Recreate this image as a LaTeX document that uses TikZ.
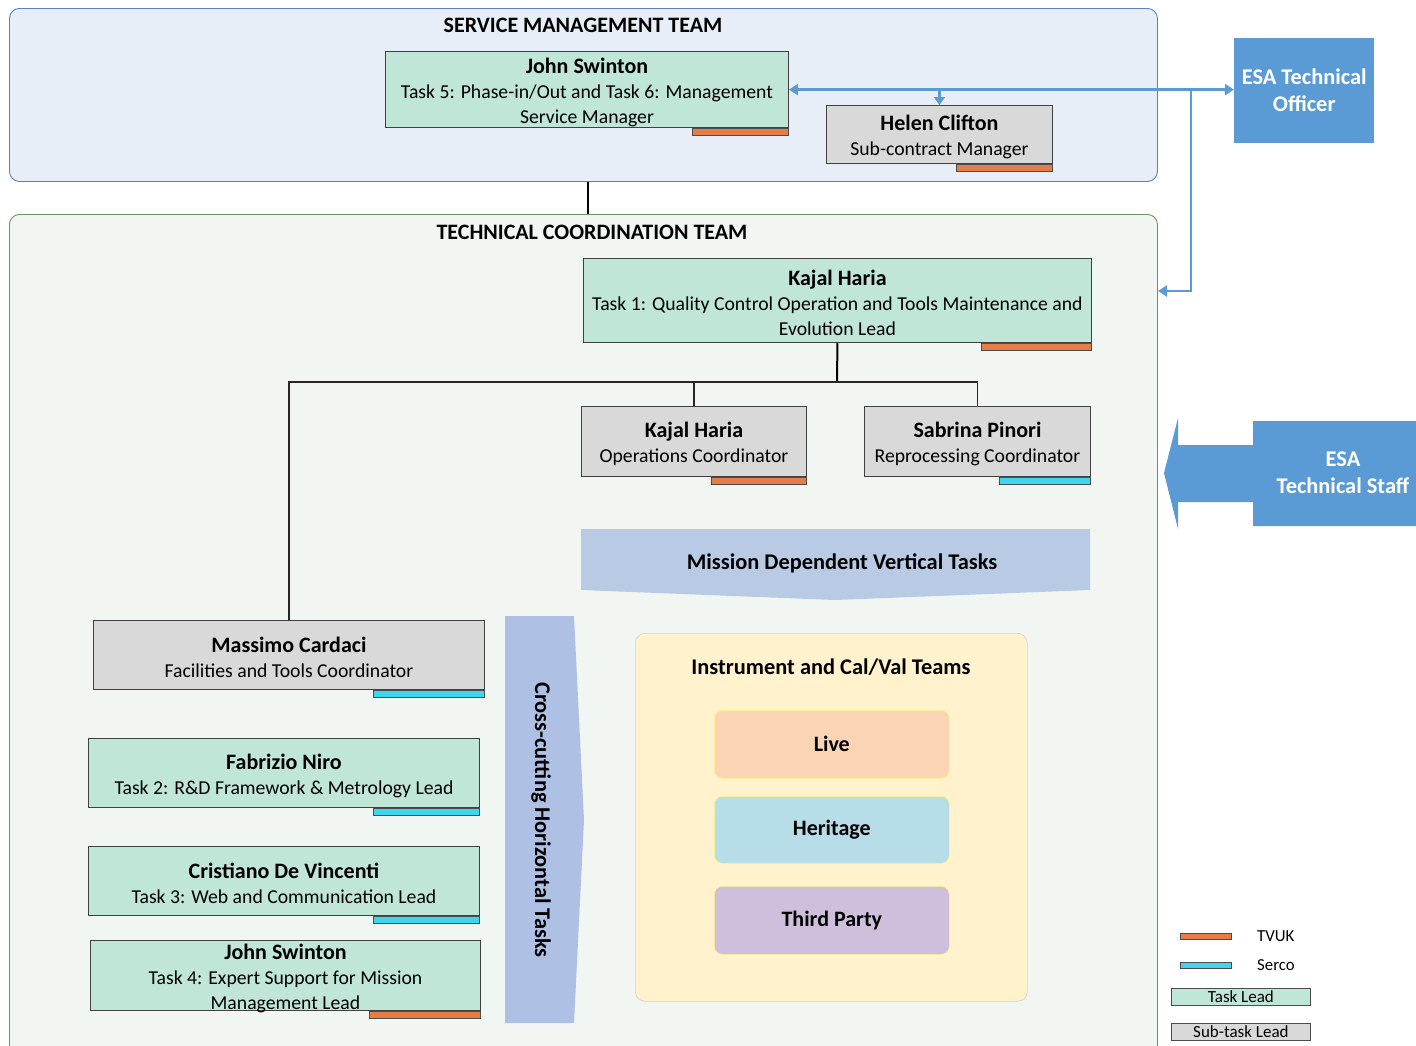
\documentclass[tikz,border=0pt]{standalone}
\usepackage{fontspec}
\setmainfont{Carlito}
\usetikzlibrary{arrows.meta,positioning}
\definecolor{smtfill}{HTML}{E8EEF8}
\definecolor{smtdraw}{HTML}{5B7FC0}
\definecolor{tctfill}{HTML}{F1F6F2}
\definecolor{tctdraw}{HTML}{6F9460}
\definecolor{mint}{HTML}{C0E6D8}
\definecolor{greybox}{HTML}{D9D9D9}
\definecolor{esablue}{HTML}{5B9BD5}
\definecolor{band}{HTML}{B8CAE4}
\definecolor{instr}{HTML}{FFF2CC}
\definecolor{livec}{HTML}{FAD4B5}
\definecolor{herc}{HTML}{B6DDE8}
\definecolor{thirdc}{HTML}{CEC0DC}
\definecolor{tvuk}{HTML}{E67C47}
\definecolor{serco}{HTML}{3ED5EE}
\tikzset{
  body/.style={font=\fontsize{19.7}{25}\selectfont},
  person/.style={draw=black!75, line width=0.9pt, anchor=north west, align=center, inner sep=1pt, body},
  taskbox/.style={person, fill=mint},
  subbox/.style={person, fill=greybox},
  lbar/.style={draw=black!70, line width=0.6pt, anchor=north east, minimum height=7pt, inner sep=0pt},
  obar/.style={lbar, fill=tvuk},
  cbar/.style={lbar, fill=serco},
  team/.style={rounded corners=10pt, line width=0.9pt, anchor=north west, inner sep=0pt},
  title/.style={font=\fontsize{22}{26}\selectfont\bfseries},
  barrow/.style={draw=esablue, line width=2.6pt},
  conn/.style={draw=black!85, line width=1.1pt},
  inner/.style={rounded corners=8pt, draw=instr!60!yellow, line width=0.6pt, anchor=north west, font=\fontsize{22}{26}\selectfont\bfseries, inner sep=0pt},
  big/.style={font=\fontsize{22.4}{27}\selectfont\bfseries}
}
\newcommand{\nmline}[1]{{\fontsize{22}{25}\selectfont\bfseries\rule{0pt}{21pt}#1}}
\newcommand{\nmplain}[1]{{\fontsize{22}{24.5}\selectfont\bfseries #1}}
\begin{document}
\begin{tikzpicture}[x=1pt,y=-1pt]
\clip (0,0) rectangle (1416,1045);
\fill[white] (0,0) rectangle (1416,1045);

% Service management team
\node[team, draw=smtdraw, fill=smtfill, minimum width=1148pt, minimum height=173pt] (smt) at (9,8) {};
\node[title] (smtt) at (583,25) {SERVICE MANAGEMENT TEAM};

\node[taskbox, minimum width=403pt, minimum height=76pt] (js1) at (385,51) {\nmline{John Swinton}\\Task 5: Phase-in/Out and Task 6: Management\\Service Manager};
\node[obar, minimum width=96pt] (js1b) at (js1.south east) {};

\node[subbox, minimum width=226pt, minimum height=58pt] (hc) at (826,105) {\nmline{Helen Clifton}\\Sub-contract Manager};
\node[obar, minimum width=96pt] (hcb) at (hc.south east) {};

% ESA technical officer
\node[fill=esablue, anchor=north west, minimum width=140pt, minimum height=105pt, align=center, text=white, font=\fontsize{22.4}{27}\selectfont\bfseries] (eto) at (1234,38) {ESA Technical\\Officer};

% Technical coordination team
\node[team, draw=tctdraw, fill=tctfill, minimum width=1148pt, minimum height=860pt] (tct) at (9,214) {};
\node[title] (tctt) at (592,232) {TECHNICAL COORDINATION TEAM};

\draw[black, line width=2.6pt] (smt.south -| 588,0) -- (tct.north -| 588,0);

% blue connectors
\coordinate (jn) at (1191,89);
\coordinate (tin) at (1158,291);
\draw[barrow, {Triangle[width=11pt,length=9pt]}-{Triangle[width=11pt,length=9pt]}] (js1.east) -- (eto.west |- js1.east);
\draw[barrow, -{Triangle[width=11pt,length=8pt]}] (hc.north |- js1.east) -- (hc.north);
\draw[barrow, -{Triangle[width=11pt,length=9pt]}] (jn) |- (tin);

% Kajal Haria task 1
\node[taskbox, minimum width=508pt, minimum height=84pt] (kh1) at (583,258) {\nmline{Kajal Haria}\\Task 1: Quality Control Operation and Tools Maintenance and\\Evolution Lead};
\node[obar, minimum width=110pt] (kh1b) at (kh1.south east) {};

\node[subbox, minimum width=225pt, minimum height=70pt] (ko) at (581,406) {\nmline{Kajal Haria}\\Operations Coordinator};
\node[obar, minimum width=95pt] (kob) at (ko.south east) {};

\node[subbox, minimum width=226pt, minimum height=70pt] (sp) at (864,406) {\nmline{Sabrina Pinori}\\Reprocessing Coordinator};
\node[cbar, minimum width=91pt] (spb) at (sp.south east) {};

\node[subbox, minimum width=391pt, minimum height=69pt] (mc) at (93,620) {\nmline{Massimo Cardaci}\\Facilities and Tools Coordinator};
\node[cbar, minimum width=111pt] (mcb) at (mc.south east) {};

\coordinate (bus) at (837,382);
\draw[black, line width=2pt] (kh1.south) -- (bus);
\draw[conn] (mc.north) -- (mc.north |- bus) -- (sp.north |- bus) -- (sp.north);
\draw[conn] (ko.north |- bus) -- (ko.north);

\node[taskbox, minimum width=391pt, minimum height=69pt] (fn) at (88,738) {\nmline{Fabrizio Niro}\\Task 2: R\&D Framework \& Metrology Lead};
\node[cbar, minimum width=106pt] (fnb) at (fn.south east) {};

\node[taskbox, minimum width=391pt, minimum height=69pt] (cdv) at (88,846) {\nmline{Cristiano De Vincenti}\\Task 3: Web and Communication Lead};
\node[cbar, minimum width=106pt] (cdvb) at (cdv.south east) {};

\node[taskbox, minimum width=390pt, minimum height=70pt] (js2) at (90,940) {};
\node[body, align=center, inner sep=0pt] (js2t) at ([yshift=-3pt]js2.center) {\nmplain{John Swinton}\\Task 4: Expert Support for Mission\\Management Lead};
\node[obar, minimum width=111pt] (js2b) at (js2.south east) {};

% Mission dependent vertical tasks
\fill[band] (581,529) -- (1090,529) -- (1090,590) -- (835,600) -- (581,590) -- cycle;
\node[big] (mdvt) at (842,563) {Mission Dependent Vertical Tasks};

% Cross-cutting horizontal tasks
\fill[band!95!blue] (505,616) -- (574,616) -- (584,820) -- (574,1023) -- (505,1023) -- cycle;
\node[rotate=-90, big] (cht) at (541,820) {Cross-cutting Horizontal Tasks};

% Instrument and Cal/Val teams
\node[rounded corners=10pt, fill=instr, draw=instr!85!blue, line width=0.6pt, anchor=north west, minimum width=392pt, minimum height=368pt] (icv) at (635,633) {};
\node[big] (icvt) at (831,667) {Instrument and Cal/Val Teams};
\node[inner, fill=livec, minimum width=235pt, minimum height=68pt] (live) at (714,710) {Live};
\node[inner, fill=herc, minimum width=235pt, minimum height=67pt] (her) at (714,796) {Heritage};
\node[inner, fill=thirdc, minimum width=235pt, minimum height=68pt] (tp) at (714,886) {Third Party};

% ESA technical staff arrow
\fill[esablue] (1164,473) -- (1178,418) -- (1178,445) -- (1253,445) -- (1253,421) -- (1416,421) -- (1416,526) -- (1253,526) -- (1253,502) -- (1178,502) -- (1178,529) -- cycle;
\node[text=white, align=center, font=\fontsize{22.4}{27}\selectfont\bfseries] (ets) at (1343,473) {ESA\\Technical Staff};

% Legend
\node[obar, anchor=north west, minimum width=51pt, minimum height=6pt] (lg1) at (1180,933) {};
\node[anchor=west, inner sep=0pt, font=\fontsize{16.8}{19}\selectfont] (lg1t) at (1257,936) {TVUK};
\node[cbar, anchor=north west, minimum width=51pt, minimum height=6pt] (lg2) at (1180,962) {};
\node[anchor=west, inner sep=0pt, font=\fontsize{16.8}{19}\selectfont] (lg2t) at (1257,965) {Serco};
\node[draw=black!70, line width=0.8pt, fill=mint, anchor=north west, minimum width=139pt, minimum height=17pt, inner sep=0pt, font=\fontsize{17}{17}\selectfont] (lg3) at (1171,988) {Task Lead};
\node[draw=black!70, line width=0.8pt, fill=greybox, anchor=north west, minimum width=139pt, minimum height=17pt, inner sep=0pt, font=\fontsize{17}{17}\selectfont] (lg4) at (1171,1023) {Sub-task Lead};
\end{tikzpicture}
\end{document}
